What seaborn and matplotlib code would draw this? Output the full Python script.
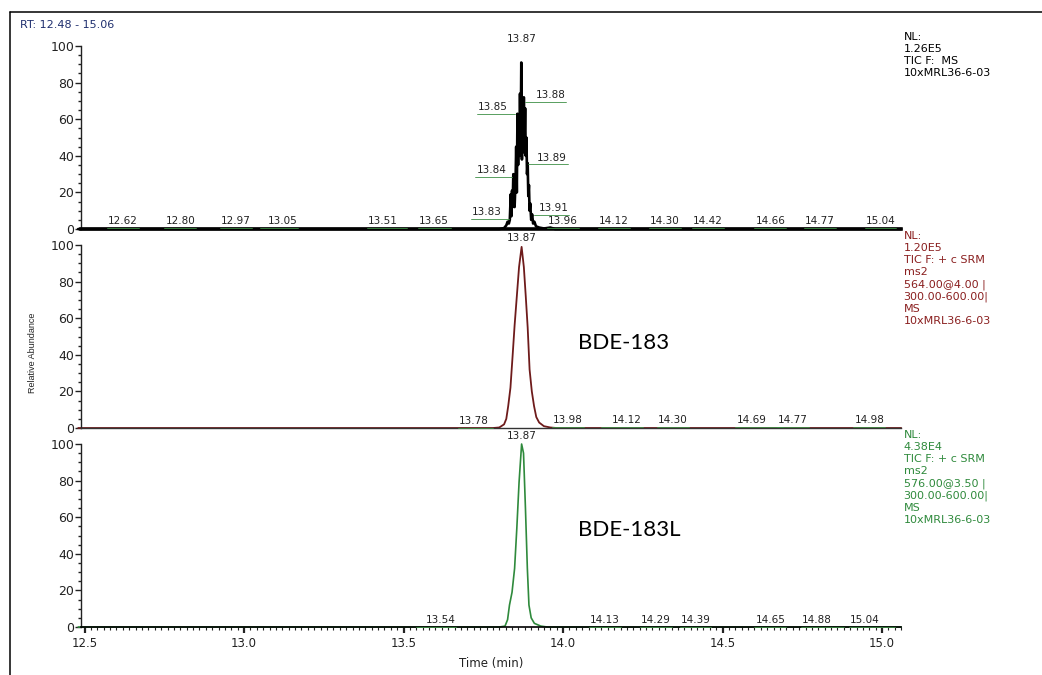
import matplotlib
matplotlib.use("Agg")
import matplotlib.pyplot as plt
import seaborn as sns
import pandas as pd
from matplotlib.lines import Line2D
from matplotlib.ticker import MultipleLocator

sns.set_theme(style="white")
plt.rcParams["font.family"] = ["DejaVu Sans"]

# ---- chromatogram traces (retention time in min, relative abundance in %) ----
tic_rt = [12.48, 13.800, 13.815, 13.822, 13.826, 13.830, 13.833, 13.836, 13.838,
          13.840, 13.842, 13.844, 13.846, 13.848, 13.851, 13.853, 13.855, 13.857,
          13.859, 13.861, 13.863, 13.865, 13.867, 13.869, 13.871, 13.873, 13.875,
          13.877, 13.879, 13.881, 13.883, 13.885, 13.887, 13.889, 13.891, 13.893,
          13.895, 13.897, 13.900, 13.903, 13.906, 13.910, 13.915, 13.925, 13.940,
          13.960, 13.975, 15.06]
tic_ab = [0, 0, 0.5, 2, 4, 3, 5, 19, 7,
          21, 12, 30, 18, 12, 26, 45, 20, 63,
          35, 60, 40, 74, 45, 91, 38, 70, 42,
          72, 48, 66, 40, 50, 30, 36, 18, 24,
          10, 14, 5, 8, 3, 4, 1.5, 0.8, 0.3,
          0.8, 0, 0]

bde183_rt = [12.48, 13.78, 13.80, 13.815, 13.822, 13.828, 13.835, 13.842, 13.848,
             13.855, 13.862, 13.870, 13.877, 13.883, 13.889, 13.895, 13.902, 13.909,
             13.916, 13.925, 13.94, 13.96, 13.98, 15.06]
bde183_ab = [0, 0, 0.3, 2, 5, 12, 22, 40, 56,
             72, 88, 99, 88, 72, 55, 32, 20, 12,
             6, 3, 1, 0.3, 0, 0]

bde183l_rt = [12.48, 13.80, 13.818, 13.826, 13.832, 13.840, 13.848, 13.855, 13.862,
              13.870, 13.876, 13.882, 13.888, 13.893, 13.900, 13.910, 13.930, 13.950, 15.06]
bde183l_ab = [0, 0, 0.5, 4, 12, 19, 32, 54, 79,
              100, 95, 65, 32, 12, 5, 2, 0.5, 0, 0]

# ---- peak labels (retention times as printed) ----
tic_labels = [12.62, 12.80, 12.97, 13.05, 13.51, 13.65, 13.83, 13.84, 13.85, 13.87,
              13.88, 13.89, 13.91, 13.96, 14.12, 14.30, 14.42, 14.66, 14.77, 15.04]
bde183_labels = [13.87, 13.78, 13.98, 14.12, 14.30, 14.69, 14.77, 14.98]
bde183l_labels = [13.87, 13.54, 14.13, 14.29, 14.39, 14.65, 14.88, 15.04]

# label placement (nudge in min, text height in %)
tic_dx = [0, 0, 0.005, 0.07, -0.075, -0.055, -0.07, -0.065, -0.07, 0,
          0.08, 0.075, 0.06, 0.04, 0.04, 0.02, 0.035, -0.01, 0.035, -0.045]
tic_ty = [4.4, 4.4, 4.4, 4.4, 4.4, 4.4, 9.3, 32, 66.7, 104,
          73, 39, 11.5, 4.4, 4.4, 4.4, 4.4, 4.4, 4.4, 4.4]
bde183_dx = [0, -0.06, 0.035, 0.08, 0.045, -0.1, -0.05, -0.02]
bde183_ty = [103.8, 3.8, 4.4, 4.2, 4.2, 4.2, 4.2, 4.2]
bde183l_dx = [0, 0.075, 0, 0, 0.025, 0, -0.085, -0.095]
bde183l_ty = [104.4, 3.8, 3.8, 3.8, 3.8, 3.8, 3.8, 3.8]

# ---- side information blocks ----
tic_info = ["NL:", "1.26E5", "TIC F:  MS", "10xMRL36-6-03"]
bde183_info = ["NL:", "1.20E5", "TIC F: + c SRM", "ms2", "564.00@4.00 |",
               "300.00-600.00|", "MS", "10xMRL36-6-03"]
bde183l_info = ["NL:", "4.38E4", "TIC F: + c SRM", "ms2", "576.00@3.50 |",
                "300.00-600.00|", "MS", "10xMRL36-6-03"]

LEADER = "#3d8f45"
fig = plt.figure(figsize=(10.42, 6.75), dpi=100)

left, width, height = 0.0781, 0.7868, 0.2711
bottoms = [0.6607, 0.3659, 0.0711]
axes = [fig.add_axes([left, b, width, height]) for b in bottoms]

panels = [
    (tic_rt, tic_ab, "black", 1.9, tic_labels, tic_dx, tic_ty, tic_info, "black"),
    (bde183_rt, bde183_ab, "#6e1b1b", 1.3, bde183_labels, bde183_dx, bde183_ty,
     bde183_info, "#8a1f1f"),
    (bde183l_rt, bde183l_ab, "#2f8a3c", 1.2, bde183l_labels, bde183l_dx, bde183l_ty,
     bde183l_info, "#2f8a3c"),
]

for ax, (rt, ab, col, lw, labs, dxs, tys, info, icol) in zip(axes, panels):
    df = pd.DataFrame({"rt": rt, "ab": ab})
    sns.lineplot(data=df, x="rt", y="ab", ax=ax, color=col, lw=lw,
                 estimator=None, sort=False, clip_on=False)
    ax.set_xlim(12.49, 15.06)
    ax.set_ylim(0, 100)
    ax.set_xlabel("")
    ax.set_ylabel("")
    for s in ["top", "right"]:
        ax.spines[s].set_visible(False)
    ax.spines["left"].set_color("#222222")
    ax.spines["left"].set_linewidth(1.0)
    ax.yaxis.set_major_locator(MultipleLocator(20))
    ax.yaxis.set_minor_locator(MultipleLocator(5))
    ax.tick_params(axis="y", which="major", direction="out", length=4, width=1,
                   labelsize=9, pad=1, left=True, colors="#222222")
    ax.tick_params(axis="y", which="minor", direction="out", length=2.3, width=1,
                   left=True, colors="#222222")
    ax.set_facecolor("none")

    # peak labels with underline leaders
    for r, dx, ty in zip(labs, dxs, tys):
        lx = r + dx
        ax.text(lx, ty, f"{r:.2f}", ha="center", va="center", fontsize=7.5,
                color="#222222", clip_on=False, zorder=5)
        if ty < 100:
            x0 = min(lx - 0.05, r)
            x1 = max(lx + 0.05, r)
            ax.plot([x0, x1], [ty - 3.6, ty - 3.6], color=LEADER, lw=0.6,
                    clip_on=False, zorder=4)

    ax.text(1.003, 1.075, "\n".join(info), transform=ax.transAxes, ha="left",
            va="top", fontsize=8, color=icol, linespacing=1.25)

# top panel: thick baseline, no x axis
axes[0].spines["bottom"].set_linewidth(2.6)
axes[0].spines["bottom"].set_color("black")
axes[0].set_xticks([])
axes[1].spines["bottom"].set_linewidth(1.0)
axes[1].spines["bottom"].set_color("#333333")
axes[1].set_xticks([])

# bottom panel time axis
ax = axes[2]
ax.spines["bottom"].set_color("black")
ax.spines["bottom"].set_linewidth(1.2)
ax.xaxis.set_major_locator(MultipleLocator(0.5))
ax.xaxis.set_minor_locator(MultipleLocator(0.02))
ax.tick_params(axis="x", which="major", direction="out", length=4.5, width=1.6,
               labelsize=8.5, pad=3, bottom=True, colors="#222222")
ax.tick_params(axis="x", which="minor", direction="out", length=2.2, width=0.8,
               bottom=True, colors="#222222")
ax.set_xticks([12.5, 13.0, 13.5, 14.0, 14.5, 15.0])
ax.set_xticklabels(["12.5", "13.0", "13.5", "14.0", "14.5", "15.0"])
ax.set_xlabel("Time (min)", fontsize=8.5, color="#222222", labelpad=5)

# compound names
axes[1].text(0.6057, 0.464, "BDE-183", transform=axes[1].transAxes, fontsize=16,
             family=["Lato", "DejaVu Sans"], color="black", va="center")
axes[2].text(0.6057, 0.53, "BDE-183L", transform=axes[2].transAxes, fontsize=16,
             family=["Lato", "DejaVu Sans"], color="black", va="center")

fig.text(0.031, 0.478, "Relative Abundance", rotation=90, ha="center", va="center",
         fontsize=6.5, family=["Liberation Sans Narrow", "Liberation Sans"],
         color="#222222")
fig.text(20 / 1042, 1 - 25 / 675, "RT: 12.48 - 15.06", ha="left", va="center",
         fontsize=8, color="#1f2f6e")

# outer frame
fig.add_artist(Line2D([9.5 / 1042, 1.0], [1 - 12 / 675, 1 - 12 / 675], color="black", lw=1.1))
fig.add_artist(Line2D([9.5 / 1042, 9.5 / 1042], [0.0, 1 - 12 / 675], color="black", lw=1.1))

fig.savefig("out.png", dpi=100)
